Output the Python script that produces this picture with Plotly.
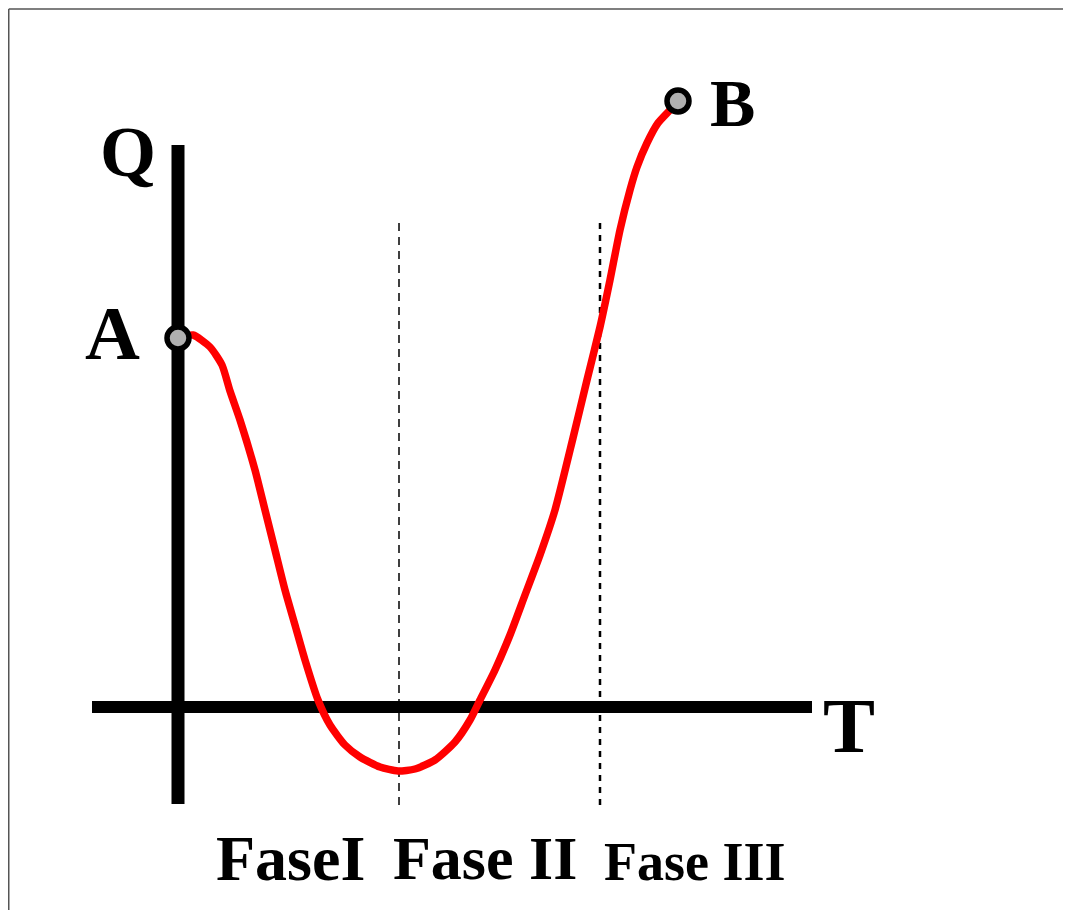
import plotly.graph_objects as go

# Curve Q(T) (units: px relative to the origin of the T/Q axes)
T_vals = [0, 15, 32, 44, 52, 62, 77, 87, 97, 107, 117, 127, 140, 152, 167, 182, 202, 220,
          237, 257, 277, 292, 302, 317, 332, 347, 362, 377, 395, 409, 422, 432, 442, 452,
          459, 469, 480, 492, 500]
Q_vals = [369, 372, 360, 342, 316, 287, 237, 197, 157, 117, 82, 47, 7, -18, -38, -50, -60, -64,
          -62, -53, -35, -13, 7, 37, 72, 112, 152, 197, 269, 327, 380, 427, 477, 517,
          540, 564, 584, 597, 606]

points_T = [0, 500]
points_Q = [369, 606]
points_lbl = ["A", "B"]

phase_T = [221, 422]          # dashed phase boundaries
phase_labels = ["FaseI", "Fase II", "Fase III"]
phase_label_T = [112, 307, 517]

PAGE_OFF = 8                  # browser body margin
ORIGIN_X, ORIGIN_Y = 178 - PAGE_OFF, 707 - PAGE_OFF
W, H = 1071 - 2 * PAGE_OFF, 918 - 2 * PAGE_OFF

fig = go.Figure()

fig.add_trace(go.Scatter(x=T_vals, y=Q_vals, mode="lines",
                         line=dict(color="#ff0000", width=7.5, shape="spline", smoothing=0.6),
                         hoverinfo="skip", showlegend=False))
fig.add_trace(go.Scatter(x=points_T, y=points_Q, mode="markers",
                         marker=dict(size=22, color="#b0b0b0", line=dict(color="black", width=5.5)),
                         hoverinfo="skip", showlegend=False))

shapes = []
# axes
shapes.append(dict(type="line", x0=-86, x1=634, y0=0, y1=0, layer="below",
                   line=dict(color="black", width=12)))
shapes.append(dict(type="line", x0=0, x1=0, y0=-97, y1=562, layer="below",
                   line=dict(color="black", width=13)))
# phase boundaries
shapes.append(dict(type="line", x0=phase_T[0], x1=phase_T[0], y0=-98, y1=485, layer="below",
                   line=dict(color="black", width=1.5, dash="8px,6px")))
shapes.append(dict(type="line", x0=phase_T[1], x1=phase_T[1], y0=-98, y1=484, layer="below",
                   line=dict(color="black", width=2.5, dash="6px,6px")))
# frame (top + left)
shapes.append(dict(type="line", xref="paper", yref="paper", x0=0.75 / W, x1=1, y0=1 - 1.0 / H, y1=1 - 1.0 / H,
                   line=dict(color="#555555", width=1.5)))
shapes.append(dict(type="line", xref="paper", yref="paper", x0=0.75 / W, x1=0.75 / W, y0=0, y1=1 - 1.0 / H,
                   line=dict(color="#555555", width=1.5)))

font = "Liberation Serif, Times New Roman, serif"
annotations = []
def lab(text, x, y, size):
    annotations.append(dict(text=f"<b>{text}</b>", x=x, y=y, showarrow=False,
                            xanchor="center", yanchor="middle",
                            font=dict(family=font, size=size, color="black")))

lab("Q", -50, 555, 72)
lab("A", -66, 374, 76)
lab("B", 554, 604, 68)
lab("T", 671, -18, 78)
lab(phase_labels[0], phase_label_T[0], -151, 64)
lab(phase_labels[1], phase_label_T[1], -151, 62)
lab(phase_labels[2], phase_label_T[2], -155, 54)

fig.update_layout(
    width=W, height=H,
    margin=dict(l=0, r=0, t=0, b=0),
    paper_bgcolor="white", plot_bgcolor="white",
    xaxis=dict(range=[-ORIGIN_X, W - ORIGIN_X], visible=False, fixedrange=True),
    yaxis=dict(range=[ORIGIN_Y - H, ORIGIN_Y], visible=False, fixedrange=True),
    shapes=shapes, annotations=annotations,
    showlegend=False,
)

fig.write_html("out.html")
